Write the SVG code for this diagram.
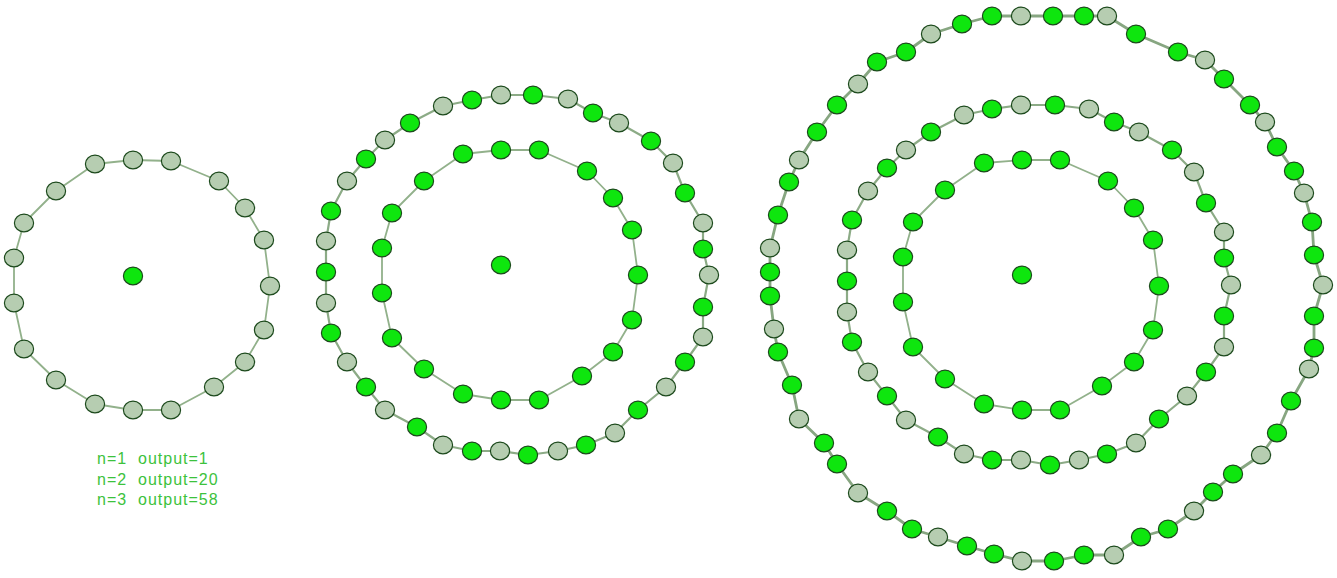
<svg xmlns="http://www.w3.org/2000/svg" xmlns:xlink="http://www.w3.org/1999/xlink" width="1337" height="578" viewBox="0 0 1337 578">
<style>
.e{fill:none;stroke:#92b18b;stroke-width:1.8;stroke-linejoin:round}
.e2{fill:none;stroke:#8cab86;stroke-width:2.2;stroke-linejoin:round}
.e3{fill:none;stroke:#87a681;stroke-width:2.8;stroke-linejoin:round}
.t{font-family:"Liberation Sans",Arial,sans-serif;font-size:16px;letter-spacing:1px;fill:#3cc23c}
</style>
<defs>
<ellipse id="G" rx="9.6" ry="8.9" fill="#0ee60e" stroke="#1d4a1d" stroke-width="1.2"/>
<ellipse id="S" rx="9.6" ry="8.9" fill="#b6cdb1" stroke="#1d4a1d" stroke-width="1.2"/>
</defs>
<rect width="1337" height="578" fill="#ffffff"/>
<g id="connectors">
<polygon class="e" points="95,164 133,160 171,161 219,181 245,208 264,240 270,286 264,330 245,362 214,387 171,410 133,410 95,404 56,380 24,349 14,303 14,258 24,223 56,191"/>
<polygon class="e" points="463,154 501,150 539,150 587,171 613,198 632,230 638,275 632,320 613,352 582,376 539,400 501,400 463,394 424,369 392,338 382,293 382,248 392,213 424,181"/>
<polygon class="e2" points="472,100 501,95 533,95 568,99 593,113 619,123 651,141 673,163 685,193 703,223 703,249 709,275 703,307 703,337 685,362 666,387 638,410 615,433 586,445 558,451 528,455 500,451 472,451 443,445 417,427 385,410 366,387 347,362 331,333 326,303 326,272 326,241 331,211 347,181 366,159 385,140 410,123 443,106"/>
<polygon class="e" points="984,163 1022,160 1060,160 1108,181 1134,208 1153,240 1159,286 1153,330 1134,362 1102,386 1060,410 1022,410 984,404 945,379 913,347 903,302 903,257 913,222 945,190"/>
<polygon class="e2" points="1021,105 1055,105 1089,109 1114,122 1139,132 1172,150 1194,172 1206,203 1224,232 1224,258 1231,285 1224,316 1224,347 1206,372 1187,396 1159,419 1136,443 1107,454 1079,460 1050,465 1021,460 992,460 964,454 938,437 906,420 887,396 868,372 852,342 847,312 847,281 847,250 852,220 868,191 887,168 906,150 931,132 964,115 992,109"/>
<polygon class="e3" points="1021,16 1053,16 1084,16 1107,16 1136,34 1178,52 1205,60 1224,79 1250,105 1265,122 1277,147 1294,171 1304,193 1312,222 1314,255 1323,285 1314,316 1314,348 1309,369 1291,401 1277,433 1261,455 1233,474 1213,492 1194,511 1168,529 1141,537 1114,555 1084,555 1054,561 1022,561 994,554 967,546 938,537 912,529 887,511 858,493 837,464 824,443 799,419 792,385 778,352 774,329 770,296 770,272 770,248 778,215 789,182 799,160 817,132 837,105 858,84 877,62 906,52 931,34 962,24 992,16"/>
</g>
<g id="d1-c"><use href="#G" x="133" y="276"/></g>
<g id="d1-r1-0"><use href="#S" x="95" y="164"/></g>
<g id="d1-r1-1"><use href="#S" x="133" y="160"/></g>
<g id="d1-r1-2"><use href="#S" x="171" y="161"/></g>
<g id="d1-r1-3"><use href="#S" x="219" y="181"/></g>
<g id="d1-r1-4"><use href="#S" x="245" y="208"/></g>
<g id="d1-r1-5"><use href="#S" x="264" y="240"/></g>
<g id="d1-r1-6"><use href="#S" x="270" y="286"/></g>
<g id="d1-r1-7"><use href="#S" x="264" y="330"/></g>
<g id="d1-r1-8"><use href="#S" x="245" y="362"/></g>
<g id="d1-r1-9"><use href="#S" x="214" y="387"/></g>
<g id="d1-r1-10"><use href="#S" x="171" y="410"/></g>
<g id="d1-r1-11"><use href="#S" x="133" y="410"/></g>
<g id="d1-r1-12"><use href="#S" x="95" y="404"/></g>
<g id="d1-r1-13"><use href="#S" x="56" y="380"/></g>
<g id="d1-r1-14"><use href="#S" x="24" y="349"/></g>
<g id="d1-r1-15"><use href="#S" x="14" y="303"/></g>
<g id="d1-r1-16"><use href="#S" x="14" y="258"/></g>
<g id="d1-r1-17"><use href="#S" x="24" y="223"/></g>
<g id="d1-r1-18"><use href="#S" x="56" y="191"/></g>
<g id="d2-c"><use href="#G" x="501" y="265"/></g>
<g id="d2-r1-0"><use href="#G" x="463" y="154"/></g>
<g id="d2-r1-1"><use href="#G" x="501" y="150"/></g>
<g id="d2-r1-2"><use href="#G" x="539" y="150"/></g>
<g id="d2-r1-3"><use href="#G" x="587" y="171"/></g>
<g id="d2-r1-4"><use href="#G" x="613" y="198"/></g>
<g id="d2-r1-5"><use href="#G" x="632" y="230"/></g>
<g id="d2-r1-6"><use href="#G" x="638" y="275"/></g>
<g id="d2-r1-7"><use href="#G" x="632" y="320"/></g>
<g id="d2-r1-8"><use href="#G" x="613" y="352"/></g>
<g id="d2-r1-9"><use href="#G" x="582" y="376"/></g>
<g id="d2-r1-10"><use href="#G" x="539" y="400"/></g>
<g id="d2-r1-11"><use href="#G" x="501" y="400"/></g>
<g id="d2-r1-12"><use href="#G" x="463" y="394"/></g>
<g id="d2-r1-13"><use href="#G" x="424" y="369"/></g>
<g id="d2-r1-14"><use href="#G" x="392" y="338"/></g>
<g id="d2-r1-15"><use href="#G" x="382" y="293"/></g>
<g id="d2-r1-16"><use href="#G" x="382" y="248"/></g>
<g id="d2-r1-17"><use href="#G" x="392" y="213"/></g>
<g id="d2-r1-18"><use href="#G" x="424" y="181"/></g>
<g id="d2-r2-0"><use href="#G" x="472" y="100"/></g>
<g id="d2-r2-1"><use href="#S" x="501" y="95"/></g>
<g id="d2-r2-2"><use href="#G" x="533" y="95"/></g>
<g id="d2-r2-3"><use href="#S" x="568" y="99"/></g>
<g id="d2-r2-4"><use href="#G" x="593" y="113"/></g>
<g id="d2-r2-5"><use href="#S" x="619" y="123"/></g>
<g id="d2-r2-6"><use href="#G" x="651" y="141"/></g>
<g id="d2-r2-7"><use href="#S" x="673" y="163"/></g>
<g id="d2-r2-8"><use href="#G" x="685" y="193"/></g>
<g id="d2-r2-9"><use href="#S" x="703" y="223"/></g>
<g id="d2-r2-10"><use href="#G" x="703" y="249"/></g>
<g id="d2-r2-11"><use href="#S" x="709" y="275"/></g>
<g id="d2-r2-12"><use href="#G" x="703" y="307"/></g>
<g id="d2-r2-13"><use href="#S" x="703" y="337"/></g>
<g id="d2-r2-14"><use href="#G" x="685" y="362"/></g>
<g id="d2-r2-15"><use href="#S" x="666" y="387"/></g>
<g id="d2-r2-16"><use href="#G" x="638" y="410"/></g>
<g id="d2-r2-17"><use href="#S" x="615" y="433"/></g>
<g id="d2-r2-18"><use href="#G" x="586" y="445"/></g>
<g id="d2-r2-19"><use href="#S" x="558" y="451"/></g>
<g id="d2-r2-20"><use href="#G" x="528" y="455"/></g>
<g id="d2-r2-21"><use href="#S" x="500" y="451"/></g>
<g id="d2-r2-22"><use href="#G" x="472" y="451"/></g>
<g id="d2-r2-23"><use href="#S" x="443" y="445"/></g>
<g id="d2-r2-24"><use href="#G" x="417" y="427"/></g>
<g id="d2-r2-25"><use href="#S" x="385" y="410"/></g>
<g id="d2-r2-26"><use href="#G" x="366" y="387"/></g>
<g id="d2-r2-27"><use href="#S" x="347" y="362"/></g>
<g id="d2-r2-28"><use href="#G" x="331" y="333"/></g>
<g id="d2-r2-29"><use href="#S" x="326" y="303"/></g>
<g id="d2-r2-30"><use href="#G" x="326" y="272"/></g>
<g id="d2-r2-31"><use href="#S" x="326" y="241"/></g>
<g id="d2-r2-32"><use href="#G" x="331" y="211"/></g>
<g id="d2-r2-33"><use href="#S" x="347" y="181"/></g>
<g id="d2-r2-34"><use href="#G" x="366" y="159"/></g>
<g id="d2-r2-35"><use href="#S" x="385" y="140"/></g>
<g id="d2-r2-36"><use href="#G" x="410" y="123"/></g>
<g id="d2-r2-37"><use href="#S" x="443" y="106"/></g>
<g id="d3-c"><use href="#G" x="1022" y="275"/></g>
<g id="d3-r1-0"><use href="#G" x="984" y="163"/></g>
<g id="d3-r1-1"><use href="#G" x="1022" y="160"/></g>
<g id="d3-r1-2"><use href="#G" x="1060" y="160"/></g>
<g id="d3-r1-3"><use href="#G" x="1108" y="181"/></g>
<g id="d3-r1-4"><use href="#G" x="1134" y="208"/></g>
<g id="d3-r1-5"><use href="#G" x="1153" y="240"/></g>
<g id="d3-r1-6"><use href="#G" x="1159" y="286"/></g>
<g id="d3-r1-7"><use href="#G" x="1153" y="330"/></g>
<g id="d3-r1-8"><use href="#G" x="1134" y="362"/></g>
<g id="d3-r1-9"><use href="#G" x="1102" y="386"/></g>
<g id="d3-r1-10"><use href="#G" x="1060" y="410"/></g>
<g id="d3-r1-11"><use href="#G" x="1022" y="410"/></g>
<g id="d3-r1-12"><use href="#G" x="984" y="404"/></g>
<g id="d3-r1-13"><use href="#G" x="945" y="379"/></g>
<g id="d3-r1-14"><use href="#G" x="913" y="347"/></g>
<g id="d3-r1-15"><use href="#G" x="903" y="302"/></g>
<g id="d3-r1-16"><use href="#G" x="903" y="257"/></g>
<g id="d3-r1-17"><use href="#G" x="913" y="222"/></g>
<g id="d3-r1-18"><use href="#G" x="945" y="190"/></g>
<g id="d3-r2-0"><use href="#S" x="1021" y="105"/></g>
<g id="d3-r2-1"><use href="#G" x="1055" y="105"/></g>
<g id="d3-r2-2"><use href="#S" x="1089" y="109"/></g>
<g id="d3-r2-3"><use href="#G" x="1114" y="122"/></g>
<g id="d3-r2-4"><use href="#S" x="1139" y="132"/></g>
<g id="d3-r2-5"><use href="#G" x="1172" y="150"/></g>
<g id="d3-r2-6"><use href="#S" x="1194" y="172"/></g>
<g id="d3-r2-7"><use href="#G" x="1206" y="203"/></g>
<g id="d3-r2-8"><use href="#S" x="1224" y="232"/></g>
<g id="d3-r2-9"><use href="#G" x="1224" y="258"/></g>
<g id="d3-r2-10"><use href="#S" x="1231" y="285"/></g>
<g id="d3-r2-11"><use href="#G" x="1224" y="316"/></g>
<g id="d3-r2-12"><use href="#S" x="1224" y="347"/></g>
<g id="d3-r2-13"><use href="#G" x="1206" y="372"/></g>
<g id="d3-r2-14"><use href="#S" x="1187" y="396"/></g>
<g id="d3-r2-15"><use href="#G" x="1159" y="419"/></g>
<g id="d3-r2-16"><use href="#S" x="1136" y="443"/></g>
<g id="d3-r2-17"><use href="#G" x="1107" y="454"/></g>
<g id="d3-r2-18"><use href="#S" x="1079" y="460"/></g>
<g id="d3-r2-19"><use href="#G" x="1050" y="465"/></g>
<g id="d3-r2-20"><use href="#S" x="1021" y="460"/></g>
<g id="d3-r2-21"><use href="#G" x="992" y="460"/></g>
<g id="d3-r2-22"><use href="#S" x="964" y="454"/></g>
<g id="d3-r2-23"><use href="#G" x="938" y="437"/></g>
<g id="d3-r2-24"><use href="#S" x="906" y="420"/></g>
<g id="d3-r2-25"><use href="#G" x="887" y="396"/></g>
<g id="d3-r2-26"><use href="#S" x="868" y="372"/></g>
<g id="d3-r2-27"><use href="#G" x="852" y="342"/></g>
<g id="d3-r2-28"><use href="#S" x="847" y="312"/></g>
<g id="d3-r2-29"><use href="#G" x="847" y="281"/></g>
<g id="d3-r2-30"><use href="#S" x="847" y="250"/></g>
<g id="d3-r2-31"><use href="#G" x="852" y="220"/></g>
<g id="d3-r2-32"><use href="#S" x="868" y="191"/></g>
<g id="d3-r2-33"><use href="#G" x="887" y="168"/></g>
<g id="d3-r2-34"><use href="#S" x="906" y="150"/></g>
<g id="d3-r2-35"><use href="#G" x="931" y="132"/></g>
<g id="d3-r2-36"><use href="#S" x="964" y="115"/></g>
<g id="d3-r2-37"><use href="#G" x="992" y="109"/></g>
<g id="d3-r3-0"><use href="#S" x="1021" y="16"/></g>
<g id="d3-r3-1"><use href="#G" x="1053" y="16"/></g>
<g id="d3-r3-2"><use href="#G" x="1084" y="16"/></g>
<g id="d3-r3-3"><use href="#S" x="1107" y="16"/></g>
<g id="d3-r3-4"><use href="#G" x="1136" y="34"/></g>
<g id="d3-r3-5"><use href="#G" x="1178" y="52"/></g>
<g id="d3-r3-6"><use href="#S" x="1205" y="60"/></g>
<g id="d3-r3-7"><use href="#G" x="1224" y="79"/></g>
<g id="d3-r3-8"><use href="#G" x="1250" y="105"/></g>
<g id="d3-r3-9"><use href="#S" x="1265" y="122"/></g>
<g id="d3-r3-10"><use href="#G" x="1277" y="147"/></g>
<g id="d3-r3-11"><use href="#G" x="1294" y="171"/></g>
<g id="d3-r3-12"><use href="#S" x="1304" y="193"/></g>
<g id="d3-r3-13"><use href="#G" x="1312" y="222"/></g>
<g id="d3-r3-14"><use href="#G" x="1314" y="255"/></g>
<g id="d3-r3-15"><use href="#S" x="1323" y="285"/></g>
<g id="d3-r3-16"><use href="#G" x="1314" y="316"/></g>
<g id="d3-r3-17"><use href="#G" x="1314" y="348"/></g>
<g id="d3-r3-18"><use href="#S" x="1309" y="369"/></g>
<g id="d3-r3-19"><use href="#G" x="1291" y="401"/></g>
<g id="d3-r3-20"><use href="#G" x="1277" y="433"/></g>
<g id="d3-r3-21"><use href="#S" x="1261" y="455"/></g>
<g id="d3-r3-22"><use href="#G" x="1233" y="474"/></g>
<g id="d3-r3-23"><use href="#G" x="1213" y="492"/></g>
<g id="d3-r3-24"><use href="#S" x="1194" y="511"/></g>
<g id="d3-r3-25"><use href="#G" x="1168" y="529"/></g>
<g id="d3-r3-26"><use href="#G" x="1141" y="537"/></g>
<g id="d3-r3-27"><use href="#S" x="1114" y="555"/></g>
<g id="d3-r3-28"><use href="#G" x="1084" y="555"/></g>
<g id="d3-r3-29"><use href="#G" x="1054" y="561"/></g>
<g id="d3-r3-30"><use href="#S" x="1022" y="561"/></g>
<g id="d3-r3-31"><use href="#G" x="994" y="554"/></g>
<g id="d3-r3-32"><use href="#G" x="967" y="546"/></g>
<g id="d3-r3-33"><use href="#S" x="938" y="537"/></g>
<g id="d3-r3-34"><use href="#G" x="912" y="529"/></g>
<g id="d3-r3-35"><use href="#G" x="887" y="511"/></g>
<g id="d3-r3-36"><use href="#S" x="858" y="493"/></g>
<g id="d3-r3-37"><use href="#G" x="837" y="464"/></g>
<g id="d3-r3-38"><use href="#G" x="824" y="443"/></g>
<g id="d3-r3-39"><use href="#S" x="799" y="419"/></g>
<g id="d3-r3-40"><use href="#G" x="792" y="385"/></g>
<g id="d3-r3-41"><use href="#G" x="778" y="352"/></g>
<g id="d3-r3-42"><use href="#S" x="774" y="329"/></g>
<g id="d3-r3-43"><use href="#G" x="770" y="296"/></g>
<g id="d3-r3-44"><use href="#G" x="770" y="272"/></g>
<g id="d3-r3-45"><use href="#S" x="770" y="248"/></g>
<g id="d3-r3-46"><use href="#G" x="778" y="215"/></g>
<g id="d3-r3-47"><use href="#G" x="789" y="182"/></g>
<g id="d3-r3-48"><use href="#S" x="799" y="160"/></g>
<g id="d3-r3-49"><use href="#G" x="817" y="132"/></g>
<g id="d3-r3-50"><use href="#G" x="837" y="105"/></g>
<g id="d3-r3-51"><use href="#S" x="858" y="84"/></g>
<g id="d3-r3-52"><use href="#G" x="877" y="62"/></g>
<g id="d3-r3-53"><use href="#G" x="906" y="52"/></g>
<g id="d3-r3-54"><use href="#S" x="931" y="34"/></g>
<g id="d3-r3-55"><use href="#G" x="962" y="24"/></g>
<g id="d3-r3-56"><use href="#G" x="992" y="16"/></g>
<g id="legend">
<text class="t" x="97" y="464" xml:space="preserve">n=1  output=1</text>
<text class="t" x="97" y="485" xml:space="preserve">n=2  output=20</text>
<text class="t" x="97" y="505" xml:space="preserve">n=3  output=58</text>
</g>
</svg>
